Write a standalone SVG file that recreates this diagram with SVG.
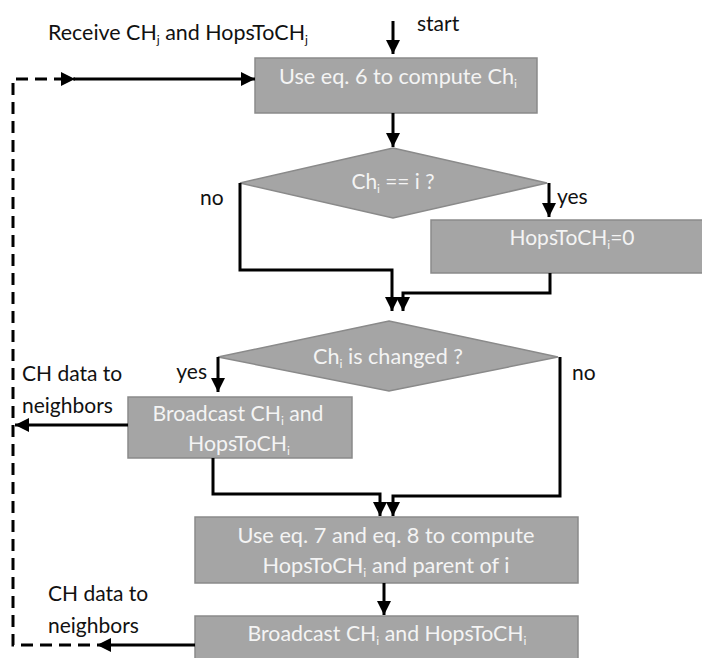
<svg xmlns="http://www.w3.org/2000/svg" width="702" height="658" viewBox="0 0 702 658">
<defs>
<style>
.box{fill:#a5a5a5;stroke:#8a8a8a;stroke-width:1.5}
.bt{font-family:Lato,"Open Sans",sans-serif;font-size:21px;fill:#f4f4f4;text-anchor:middle}
.lb{font-family:Lato,"Open Sans",sans-serif;font-size:21px;fill:#111}
.c{fill:none;stroke:#000;stroke-width:3}
.d{fill:none;stroke:#000;stroke-width:3;stroke-dasharray:12 7}
.s{font-size:12px}
</style>
<marker id="ah" markerUnits="userSpaceOnUse" markerWidth="14" markerHeight="14" viewBox="0 0 12 12" refX="12" refY="6" orient="auto">
<path d="M0,0 L12,6 L0,12 z" fill="#000"/>
</marker>
</defs>
<rect width="702" height="658" fill="#fff"/>

<g id="labels">
<text class="lb" x="48" y="40" textLength="260" lengthAdjust="spacingAndGlyphs">Receive CH<tspan class="s" dy="4">j</tspan><tspan dy="-4"> and HopsToCH</tspan><tspan class="s" dy="4">j</tspan></text>
<text class="lb" x="417" y="31">start</text>
<text class="lb" x="200" y="205">no</text>
<text class="lb" x="557" y="204">yes</text>
<text class="lb" x="207" y="379" text-anchor="end">yes</text>
<text class="lb" x="572" y="380">no</text>
<text class="lb" x="22" y="381">CH data to</text>
<text class="lb" x="22" y="413">neighbors</text>
<text class="lb" x="48" y="601">CH data to</text>
<text class="lb" x="48" y="633">neighbors</text>
</g>

<g id="n1">
<rect class="box" x="255" y="58" width="282" height="55"/>
<text class="bt" x="398" y="84" textLength="238" lengthAdjust="spacingAndGlyphs">Use eq. 6 to compute Ch<tspan class="s" dy="4">i</tspan></text>
</g>

<g id="d1">
<polygon class="box" points="393,148 547,183 393,218 240,183"/>
<text class="bt" x="393" y="189" textLength="83" lengthAdjust="spacingAndGlyphs">Ch<tspan class="s" dy="4">i</tspan><tspan dy="-4"> == i ?</tspan></text>
</g>

<g id="n2">
<rect class="box" x="431" y="220" width="290" height="53"/>
<text class="bt" x="572" y="245" textLength="125" lengthAdjust="spacingAndGlyphs">HopsToCH<tspan class="s" dy="4">i</tspan><tspan dy="-4">=0</tspan></text>
</g>

<g id="d2">
<polygon class="box" points="389,321 558,357 389,391 218,357"/>
<text class="bt" x="388" y="364" textLength="150" lengthAdjust="spacingAndGlyphs">Ch<tspan class="s" dy="4">i</tspan><tspan dy="-4"> is changed ?</tspan></text>
</g>

<g id="n3">
<rect class="box" x="128" y="397" width="224" height="61"/>
<text class="bt" x="238" y="421" textLength="171" lengthAdjust="spacingAndGlyphs">Broadcast CH<tspan class="s" dy="4">i</tspan><tspan dy="-4"> and</tspan></text>
<text class="bt" x="239" y="451" textLength="102" lengthAdjust="spacingAndGlyphs">HopsToCH<tspan class="s" dy="4">i</tspan></text>
</g>

<g id="n4">
<rect class="box" x="195" y="517" width="383" height="66"/>
<text class="bt" x="386" y="543" textLength="297" lengthAdjust="spacingAndGlyphs">Use eq. 7 and eq. 8 to compute</text>
<text class="bt" x="386" y="573" textLength="247" lengthAdjust="spacingAndGlyphs">HopsToCH<tspan class="s" dy="4">i</tspan><tspan dy="-4"> and parent of i</tspan></text>
</g>

<g id="n5">
<rect class="box" x="195" y="616" width="383" height="60"/>
<text class="bt" x="387" y="641" textLength="279" lengthAdjust="spacingAndGlyphs">Broadcast CH<tspan class="s" dy="4">i</tspan><tspan dy="-4"> and HopsToCH</tspan><tspan class="s" dy="4">i</tspan></text>
</g>

<g id="connectors">
<path class="c" d="M393,21 V54" marker-end="url(#ah)"/>
<path class="c" d="M393,113 V147" marker-end="url(#ah)"/>
<path class="c" d="M240,183 V270 H392 V311" marker-end="url(#ah)"/>
<path class="c" d="M549,183 V217" marker-end="url(#ah)"/>
<path class="c" d="M550,273 V293 H403 V311" marker-end="url(#ah)"/>
<path class="c" d="M218,357 V392" marker-end="url(#ah)"/>
<path class="c" d="M128,425 H15" marker-end="url(#ah)"/>
<path class="c" d="M213,458 V494 H380 V516" marker-end="url(#ah)"/>
<path class="c" d="M560,357 V496 H393 V516" marker-end="url(#ah)"/>
<path class="c" d="M384,583 V615" marker-end="url(#ah)"/>
<path class="c" d="M195,645 H97" marker-end="url(#ah)"/>
<path class="d" d="M90,645 H13 V79 H75" marker-end="url(#ah)"/>
<path class="c" d="M74,79 H255" marker-end="url(#ah)"/>
</g>
</svg>
